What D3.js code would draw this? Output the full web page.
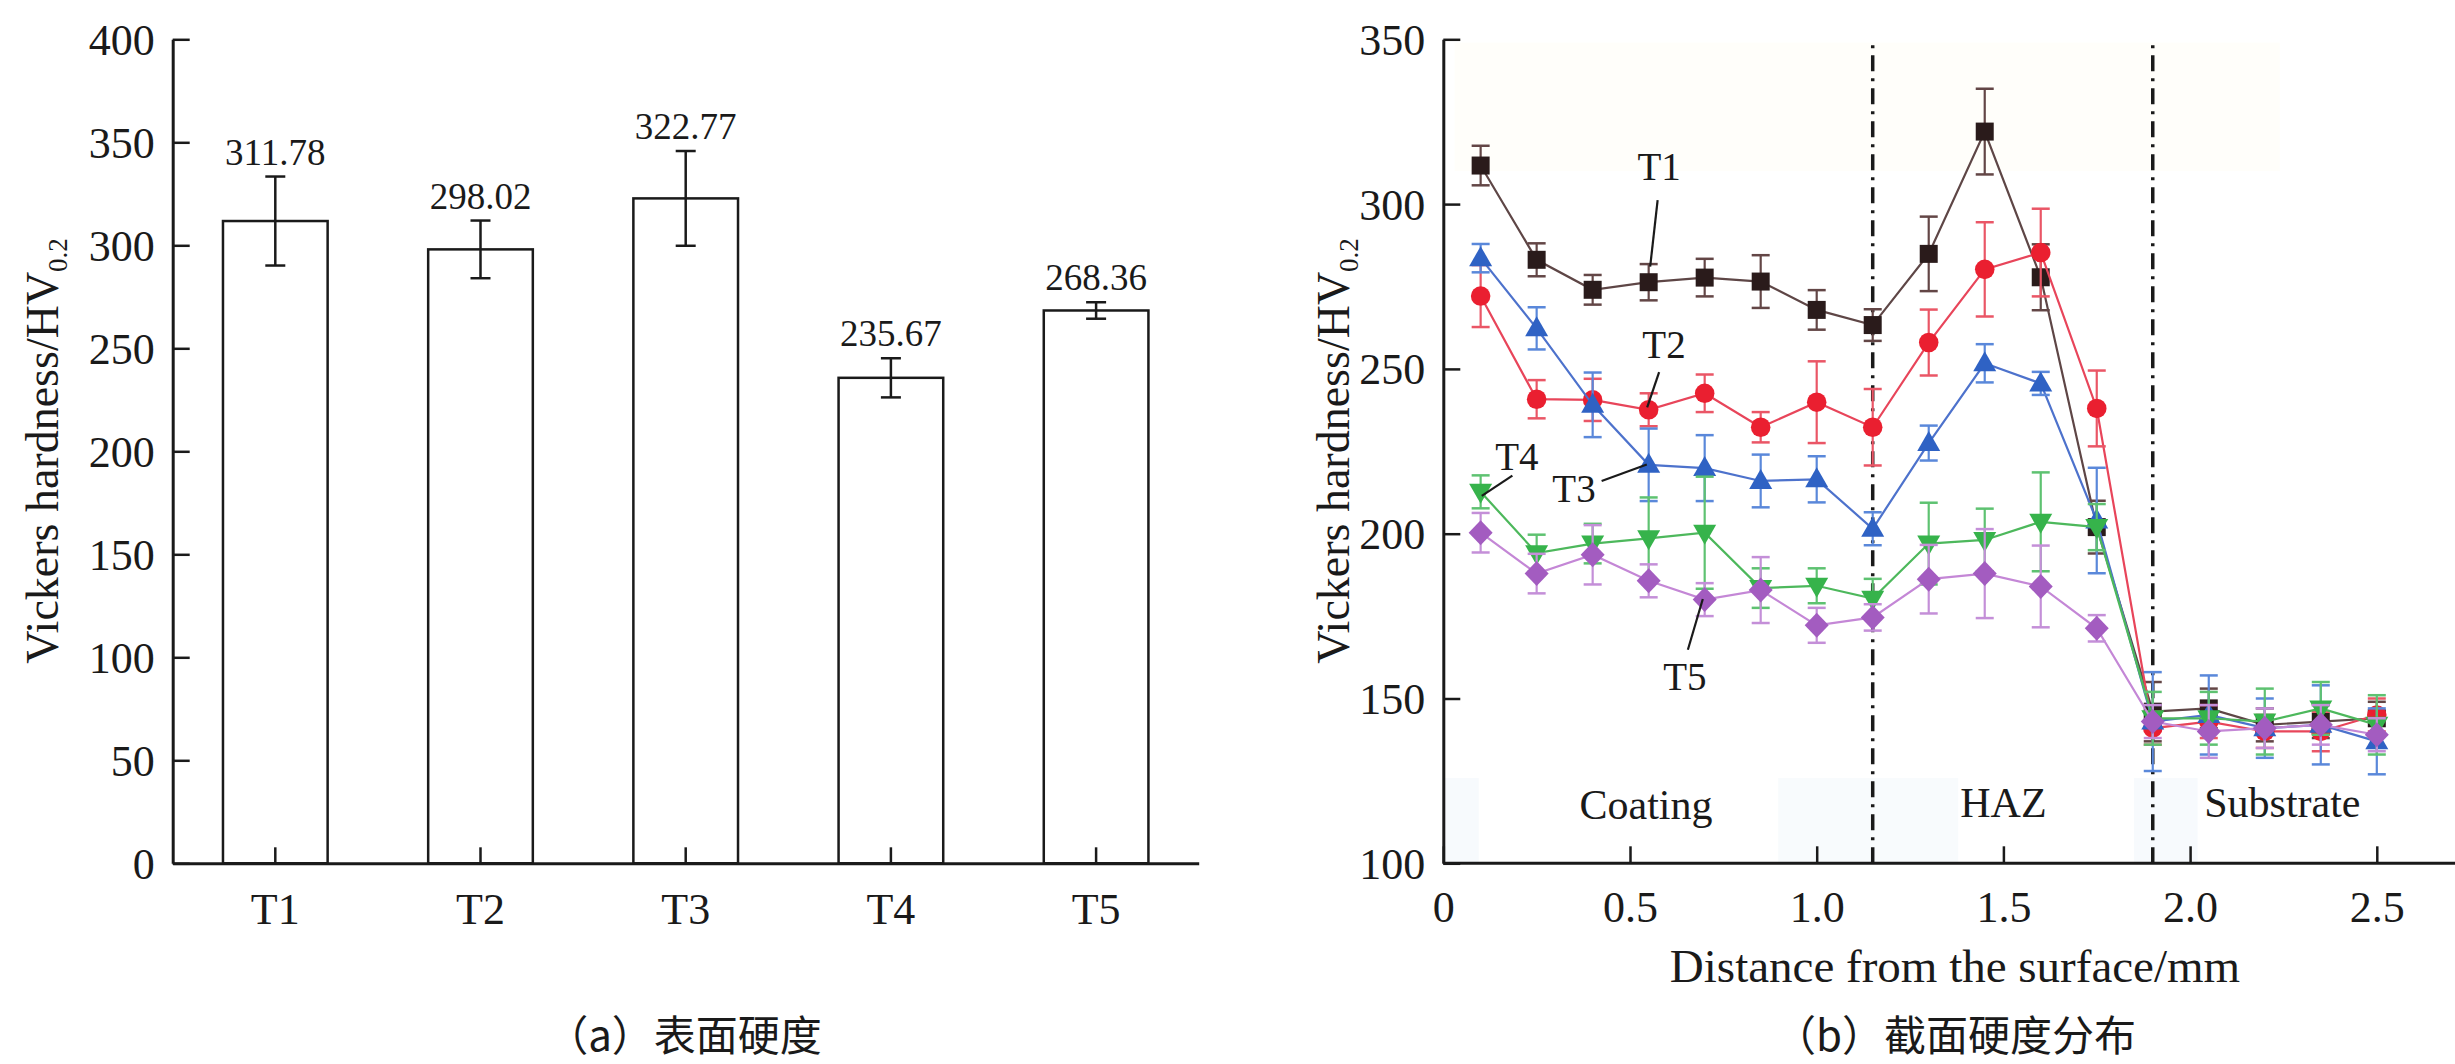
<!DOCTYPE html>
<html>
<head>
<meta charset="utf-8">
<script src="https://cdn.jsdelivr.net/npm/d3@7"></script>
<style>
  body { margin: 0; background: #fff; }
  svg { display: block; }
  text { font-family: "Liberation Serif", "Times New Roman", serif; fill: #1a1a1a; }
  .cjk { font-family: "Noto Sans CJK SC", sans-serif; }
</style>
</head>
<body>
<svg id="chart" width="2455" height="1064"></svg>
<script>
// ---- (a) surface hardness ----
const categories = ["T1", "T2", "T3", "T4", "T5"];
const surfaceHardness = [311.78, 298.02, 322.77, 235.67, 268.36];
const surfaceError = [21.6, 14, 23, 9.5, 4];
const barTicks = [0, 50, 100, 150, 200, 250, 300, 350, 400];

// ---- (b) cross-section hardness ----
const distance = [0.1, 0.25, 0.4, 0.55, 0.7, 0.85, 1.0, 1.15, 1.3, 1.45, 1.6, 1.75, 1.9, 2.05, 2.2, 2.35, 2.5];
const t1Hardness = [311.7, 283.1, 274.0, 276.3, 277.7, 276.5, 267.9, 263.3, 284.9, 322.0, 277.8, 202.0, 146, 147, 142, 143, 144];
const t1Error    = [6, 5, 4.5, 5.5, 5.7, 8, 6, 4.8, 11.3, 13, 10, 8, 9, 6, 5, 5, 5];
const t2Hardness = [272.1, 240.8, 240.6, 237.6, 242.6, 232.3, 239.9, 232.3, 258.0, 280.2, 285.3, 238.0, 141, 143, 140, 140, 145];
const t2Error    = [9.4, 5.8, 6.4, 5, 5.7, 4.6, 12.4, 11.6, 10, 14.3, 13.3, 11.5, 5, 5, 5, 6, 5];
const t3Hardness = [283.6, 262.3, 239.1, 220.9, 219.9, 216.0, 216.5, 201.5, 227.5, 251.7, 245.6, 204.0, 143, 145, 141, 142, 137];
const t3Error    = [4.3, 6.4, 9.8, 11, 10, 8, 7, 5, 5.3, 5.8, 3.5, 16, 15, 12, 9, 12, 10];
const t4Hardness = [212.7, 194.1, 197.0, 198.6, 200.3, 183.5, 184.2, 180.3, 197.0, 198.1, 203.6, 202.0, 144, 144, 143, 147, 142];
const t4Error    = [5, 5.6, 6, 12.4, 17, 6, 5.3, 6, 12.4, 9.5, 15, 7, 8, 8, 10, 8, 9];
const t5Hardness = [200.3, 187.9, 193.6, 185.7, 180.0, 182.9, 172.2, 174.6, 186.2, 187.9, 184.0, 171.3, 143, 140, 141, 142, 139];
const t5Error    = [6, 6, 9, 5, 5, 10, 5.3, 4, 10.4, 13.5, 12.4, 4, 5, 8, 6, 6, 5];

const seriesNames = ["T1", "T2", "T3", "T4", "T5"];
const seriesShapes = ["square", "circle", "triangleUp", "triangleDown", "diamond"];
const markerColors = ["#2a1b1b", "#ea1f30", "#2f62c4", "#36b34b", "#a35cc0"];
const lineColors = ["#5e4646", "#e8455a", "#4d72cc", "#4db85c", "#c487d6"];
const errorColors = ["#634646", "#ea5666", "#5a88da", "#5ec271", "#c48fd8"];

const distanceTicks = [0, 0.5, 1.0, 1.5, 2.0, 2.5];
const profileTicks = [100, 150, 200, 250, 300, 350];
const zoneBoundaries = [1.15, 1.9];
const zoneLabels = [
  { text: "Coating", x: 0.543, y: 113.5 },
  { text: "HAZ", x: 1.5, y: 114 },
  { text: "Substrate", x: 2.247, y: 114 }
];
// label anchor and leader line, all in data units
const seriesLabels = [
  { text: "T1", x: 0.578, y: 307.3, from: [0.574, 301.2], to: [0.554, 281] },
  { text: "T2", x: 0.591, y: 253.3, from: [0.578, 249], to: [0.546, 238.3] },
  { text: "T3", x: 0.35, y: 209.6, from: [0.424, 216], to: [0.545, 221] },
  { text: "T4", x: 0.197, y: 219.3, from: [0.185, 217.6], to: [0.103, 211.5] },
  { text: "T5", x: 0.647, y: 152.6, from: [0.655, 164.8], to: [0.695, 180.2] }
];
// faint shading present in the scanned figure
const shadePanels = [
  { x0: 0.03, x1: 2.24, y0: 310, y1: 349, fill: "#fffefa" },
  { x0: 0.005, x1: 0.095, y0: 100, y1: 125.9, fill: "#f7fafd" },
  { x0: 0.897, x1: 1.379, y0: 100, y1: 125.9, fill: "#f8fbfd" },
  { x0: 1.85, x1: 2.02, y0: 100, y1: 125.9, fill: "#f7fafd" }
];

const W = 2455, H = 1064;
const svg = d3.select("#chart");
svg.append("rect").attr("width", W).attr("height", H).attr("fill", "#fff");

function styleAxis(g, fontSize) {
  g.select(".domain").attr("stroke", "#1a1a1a").attr("stroke-width", 3);
  g.selectAll(".tick line").attr("stroke", "#1a1a1a").attr("stroke-width", 2.5);
  g.selectAll(".tick text").attr("fill", "#1a1a1a").style("font-size", fontSize + "px")
    .attr("font-family", null);
}

function yTitle(x, y) {
  const t = svg.append("text")
    .attr("transform", `translate(${x},${y}) rotate(-90)`)
    .attr("text-anchor", "middle")
    .style("font-size", "46px");
  t.append("tspan").text("Vickers hardness/HV");
  t.append("tspan").text("0.2").style("font-size", "27px").attr("dy", 9);
}

// ================= panel (a) =================
const xa = d3.scaleBand().domain(categories).range([172.7, 1198.7])
  .paddingInner(0.49).paddingOuter(0.245);
const ya = d3.scaleLinear().domain([0, 400]).range([863.3, 39.3]);
const bw = xa.bandwidth();

const bars = svg.append("g");
bars.selectAll("rect").data(categories).join("rect")
  .attr("x", d => xa(d))
  .attr("y", (d, i) => ya(surfaceHardness[i]))
  .attr("width", bw)
  .attr("height", (d, i) => ya(0) - ya(surfaceHardness[i]))
  .attr("fill", "#fff").attr("stroke", "#1a1a1a").attr("stroke-width", 2.5);

categories.forEach((c, i) => {
  const cx = xa(c) + bw / 2;
  const hi = ya(surfaceHardness[i] + surfaceError[i]);
  const lo = ya(surfaceHardness[i] - surfaceError[i]);
  bars.append("line").attr("x1", cx).attr("x2", cx).attr("y1", hi).attr("y2", lo)
    .attr("stroke", "#1a1a1a").attr("stroke-width", 2.5);
  [hi, lo].forEach(y => bars.append("line")
    .attr("x1", cx - 10).attr("x2", cx + 10).attr("y1", y).attr("y2", y)
    .attr("stroke", "#1a1a1a").attr("stroke-width", 2.5));
  bars.append("text").attr("x", cx).attr("y", hi - 12)
    .attr("text-anchor", "middle").style("font-size", "37px")
    .text(surfaceHardness[i].toFixed(2));
});

const gxa = svg.append("g").attr("transform", `translate(0,${ya(0)})`)
  .call(d3.axisBottom(xa).tickSizeInner(-16).tickSizeOuter(0));
styleAxis(gxa, 44);
gxa.selectAll(".tick text").attr("y", 61).attr("dy", null);

const gya = svg.append("g").attr("transform", `translate(${xa.range()[0]},0)`)
  .call(d3.axisLeft(ya).tickValues(barTicks).tickSizeInner(-17).tickSizeOuter(0).tickPadding(18));
styleAxis(gya, 44);
gya.selectAll(".tick text").attr("dy", "0.34em");

yTitle(58, 451);

svg.append("text").attr("class", "cjk").attr("x", 684).attr("y", 1051)
  .attr("text-anchor", "middle").style("font-size", "42px").text("（a）表面硬度");

// ================= panel (b) =================
const xb = d3.scaleLinear().domain([0, 2.5]).range([1443.3, 1443.3 + 2.5 * 373.4]);
const yb = d3.scaleLinear().domain([100, 350]).range([863.3, 39.3]);

svg.append("g").selectAll("rect").data(shadePanels).join("rect")
  .attr("x", d => xb(d.x0)).attr("y", d => yb(d.y1))
  .attr("width", d => xb(d.x1) - xb(d.x0)).attr("height", d => yb(d.y0) - yb(d.y1))
  .attr("fill", d => d.fill);

svg.append("g").selectAll("line").data(zoneBoundaries).join("line")
  .attr("x1", d => xb(d)).attr("x2", d => xb(d))
  .attr("y1", yb(100)).attr("y2", yb(349))
  .attr("stroke", "#1a1a1a").attr("stroke-width", 3.5)
  .attr("stroke-dasharray", "16,7,3,7");

svg.append("g").selectAll("text").data(zoneLabels).join("text")
  .attr("x", d => xb(d.x)).attr("y", d => yb(d.y))
  .attr("text-anchor", "middle").style("font-size", "42px")
  .text(d => d.text);

function markerPath(kind) {
  if (kind === "square") return "M-9,-9h18v18h-18z";
  if (kind === "circle") return d3.symbol(d3.symbolCircle, 300)();
  if (kind === "triangleUp") return "M0,-12L11.5,8L-11.5,8Z";
  if (kind === "triangleDown") return "M0,12L11.5,-8L-11.5,-8Z";
  return "M0,-12.5L12,0L0,12.5L-12,0Z";
}

const seriesValues = [t1Hardness, t2Hardness, t3Hardness, t4Hardness, t5Hardness];
const seriesErrors = [t1Error, t2Error, t3Error, t4Error, t5Error];

seriesNames.forEach((name, s) => {
  const pts = distance.map((x, i) => ({ x, y: seriesValues[s][i], e: seriesErrors[s][i] }));
  const g = svg.append("g");
  g.append("path").datum(pts)
    .attr("d", d3.line().x(d => xb(d.x)).y(d => yb(d.y)))
    .attr("fill", "none").attr("stroke", lineColors[s]).attr("stroke-width", 2.2);
  pts.forEach(p => {
    const cx = xb(p.x), hi = yb(p.y + p.e), lo = yb(p.y - p.e);
    g.append("line").attr("x1", cx).attr("x2", cx).attr("y1", hi).attr("y2", lo)
      .attr("stroke", errorColors[s]).attr("stroke-width", 2.2);
    [hi, lo].forEach(y => g.append("line")
      .attr("x1", cx - 9).attr("x2", cx + 9).attr("y1", y).attr("y2", y)
      .attr("stroke", errorColors[s]).attr("stroke-width", 2.5));
  });
  g.selectAll("path.mk").data(pts).join("path").attr("class", "mk")
    .attr("transform", d => `translate(${xb(d.x)},${yb(d.y)})`)
    .attr("d", markerPath(seriesShapes[s]))
    .attr("fill", markerColors[s]);
});

const lab = svg.append("g");
seriesLabels.forEach(d => {
  lab.append("line")
    .attr("x1", xb(d.from[0])).attr("y1", yb(d.from[1]))
    .attr("x2", xb(d.to[0])).attr("y2", yb(d.to[1]))
    .attr("stroke", "#1a1a1a").attr("stroke-width", 2.2);
  lab.append("text").attr("x", xb(d.x)).attr("y", yb(d.y))
    .attr("text-anchor", "middle").style("font-size", "39px").text(d.text);
});

const gxb = svg.append("g").attr("transform", `translate(0,${yb(100)})`)
  .call(d3.axisBottom(xb).tickValues(distanceTicks)
    .tickFormat(d => d === 0 ? "0" : d3.format(".1f")(d))
    .tickSizeInner(-17).tickSizeOuter(0));
styleAxis(gxb, 44);
gxb.select(".domain").remove();
gxb.append("line").attr("x1", xb(0)).attr("x2", W).attr("y1", 0).attr("y2", 0)
  .attr("stroke", "#1a1a1a").attr("stroke-width", 3);
gxb.selectAll(".tick text").attr("y", 59).attr("dy", null);

const gyb = svg.append("g").attr("transform", `translate(${xb(0)},0)`)
  .call(d3.axisLeft(yb).tickValues(profileTicks).tickSizeInner(-17).tickSizeOuter(0).tickPadding(18));
styleAxis(gyb, 44);
gyb.selectAll(".tick text").attr("dy", "0.34em");

yTitle(1349, 451);

svg.append("text").attr("x", 1955).attr("y", 982).attr("text-anchor", "middle")
  .style("font-size", "47px").text("Distance from the surface/mm");

svg.append("text").attr("class", "cjk").attr("x", 1955).attr("y", 1051)
  .attr("text-anchor", "middle").style("font-size", "42px").text("（b）截面硬度分布");
</script>
</body>
</html>
